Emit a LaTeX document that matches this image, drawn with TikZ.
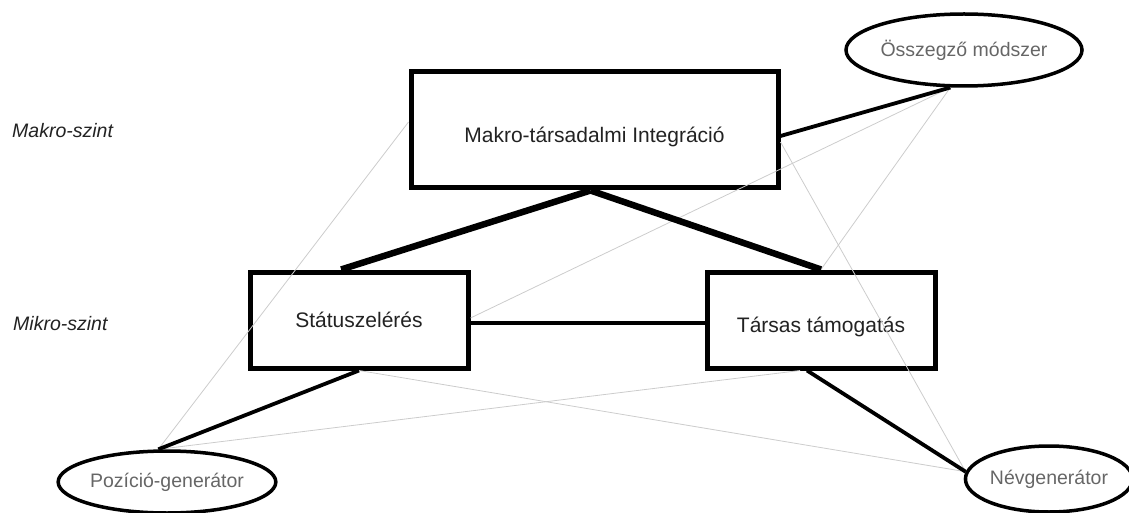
\documentclass[tikz,border=0pt]{standalone}
\usepackage{fontspec}
\setmainfont{Liberation Sans}
\usetikzlibrary{shapes.geometric,calc}
\definecolor{thin}{HTML}{CCCCCC}
\definecolor{maintext}{HTML}{222222}
\definecolor{elltext}{HTML}{666666}
\begin{document}
\begin{tikzpicture}[x=1pt,y=-1pt,
  box/.style={draw=black,line width=5pt,rectangle,inner sep=0pt,text=maintext,font=\fontsize{21}{25}\selectfont},
  lowtext/.style={text height=25pt,text depth=0pt},
  oval/.style={draw=black,line width=3.5pt,ellipse,inner sep=0pt,text=elltext,font=\fontsize{19.5}{23}\selectfont},
  levellabel/.style={anchor=west,inner sep=0pt,text=maintext,font=\fontsize{19.5}{23}\selectfont\itshape},
  heavy/.style={line width=6.5pt},
  medium/.style={line width=3.8pt},
  faint/.style={draw=thin,line width=0.8pt}]
\useasboundingbox (0,0) rectangle (1129,513);
\node[box,lowtext,minimum width=367pt,minimum height=116pt] (mak) at (594.5,130) {Makro-társadalmi Integráció};
\node[box,minimum width=218pt,minimum height=96pt] (sta) at (359,320) {Státuszelérés};
\node[box,lowtext,minimum width=228pt,minimum height=96pt] (tar) at (821,320) {Társas támogatás};
\node[oval,minimum width=220pt,minimum height=72pt] (ose) at (964,50) {Összegző módszer};
\node[oval,minimum width=202pt,minimum height=62pt] (poz) at (167,482) {Pozíció-generátor};
\node[oval,minimum width=158pt,minimum height=66pt] (nev) at (1049,479) {Névgenerátor};
\node[levellabel] (lmak) at (12,131) {Makro-szint};
\node[levellabel] (lmik) at (13,324) {Mikro-szint};
% faint lines
\draw[faint] ($(mak.west)+(0,-8)$) -- (poz.105);
\draw[faint] ($(mak.east)+(0,12)$) -- (nev.175);
\draw[faint] (ose.-110) -- (tar.north);
\draw[faint] (ose.-110) -- ($(sta.east)+(0,-2)$);
\draw[faint] (sta.south) -- (nev.175);
\draw[faint] (poz.105) -- ($(tar.south west)!0.41!(tar.south east)$);
% heavy links
\draw[heavy] ($(mak.south)+(-4,0)$) -- ($(sta.north west)!0.42!(sta.north east)$);
\draw[heavy] ($(mak.south)+(-4,0)$) -- (tar.north);
\draw[medium,line width=4pt] ($(sta.east)+(0,3)$) -- ($(tar.west)+(0,3)$);
\draw[medium] ($(mak.east)+(0,6)$) -- (ose.-110);
\draw[medium] (sta.south) -- (poz.105);
\draw[medium] ($(tar.south west)!0.44!(tar.south east)$) -- (nev.175);
\end{tikzpicture}
\end{document}
